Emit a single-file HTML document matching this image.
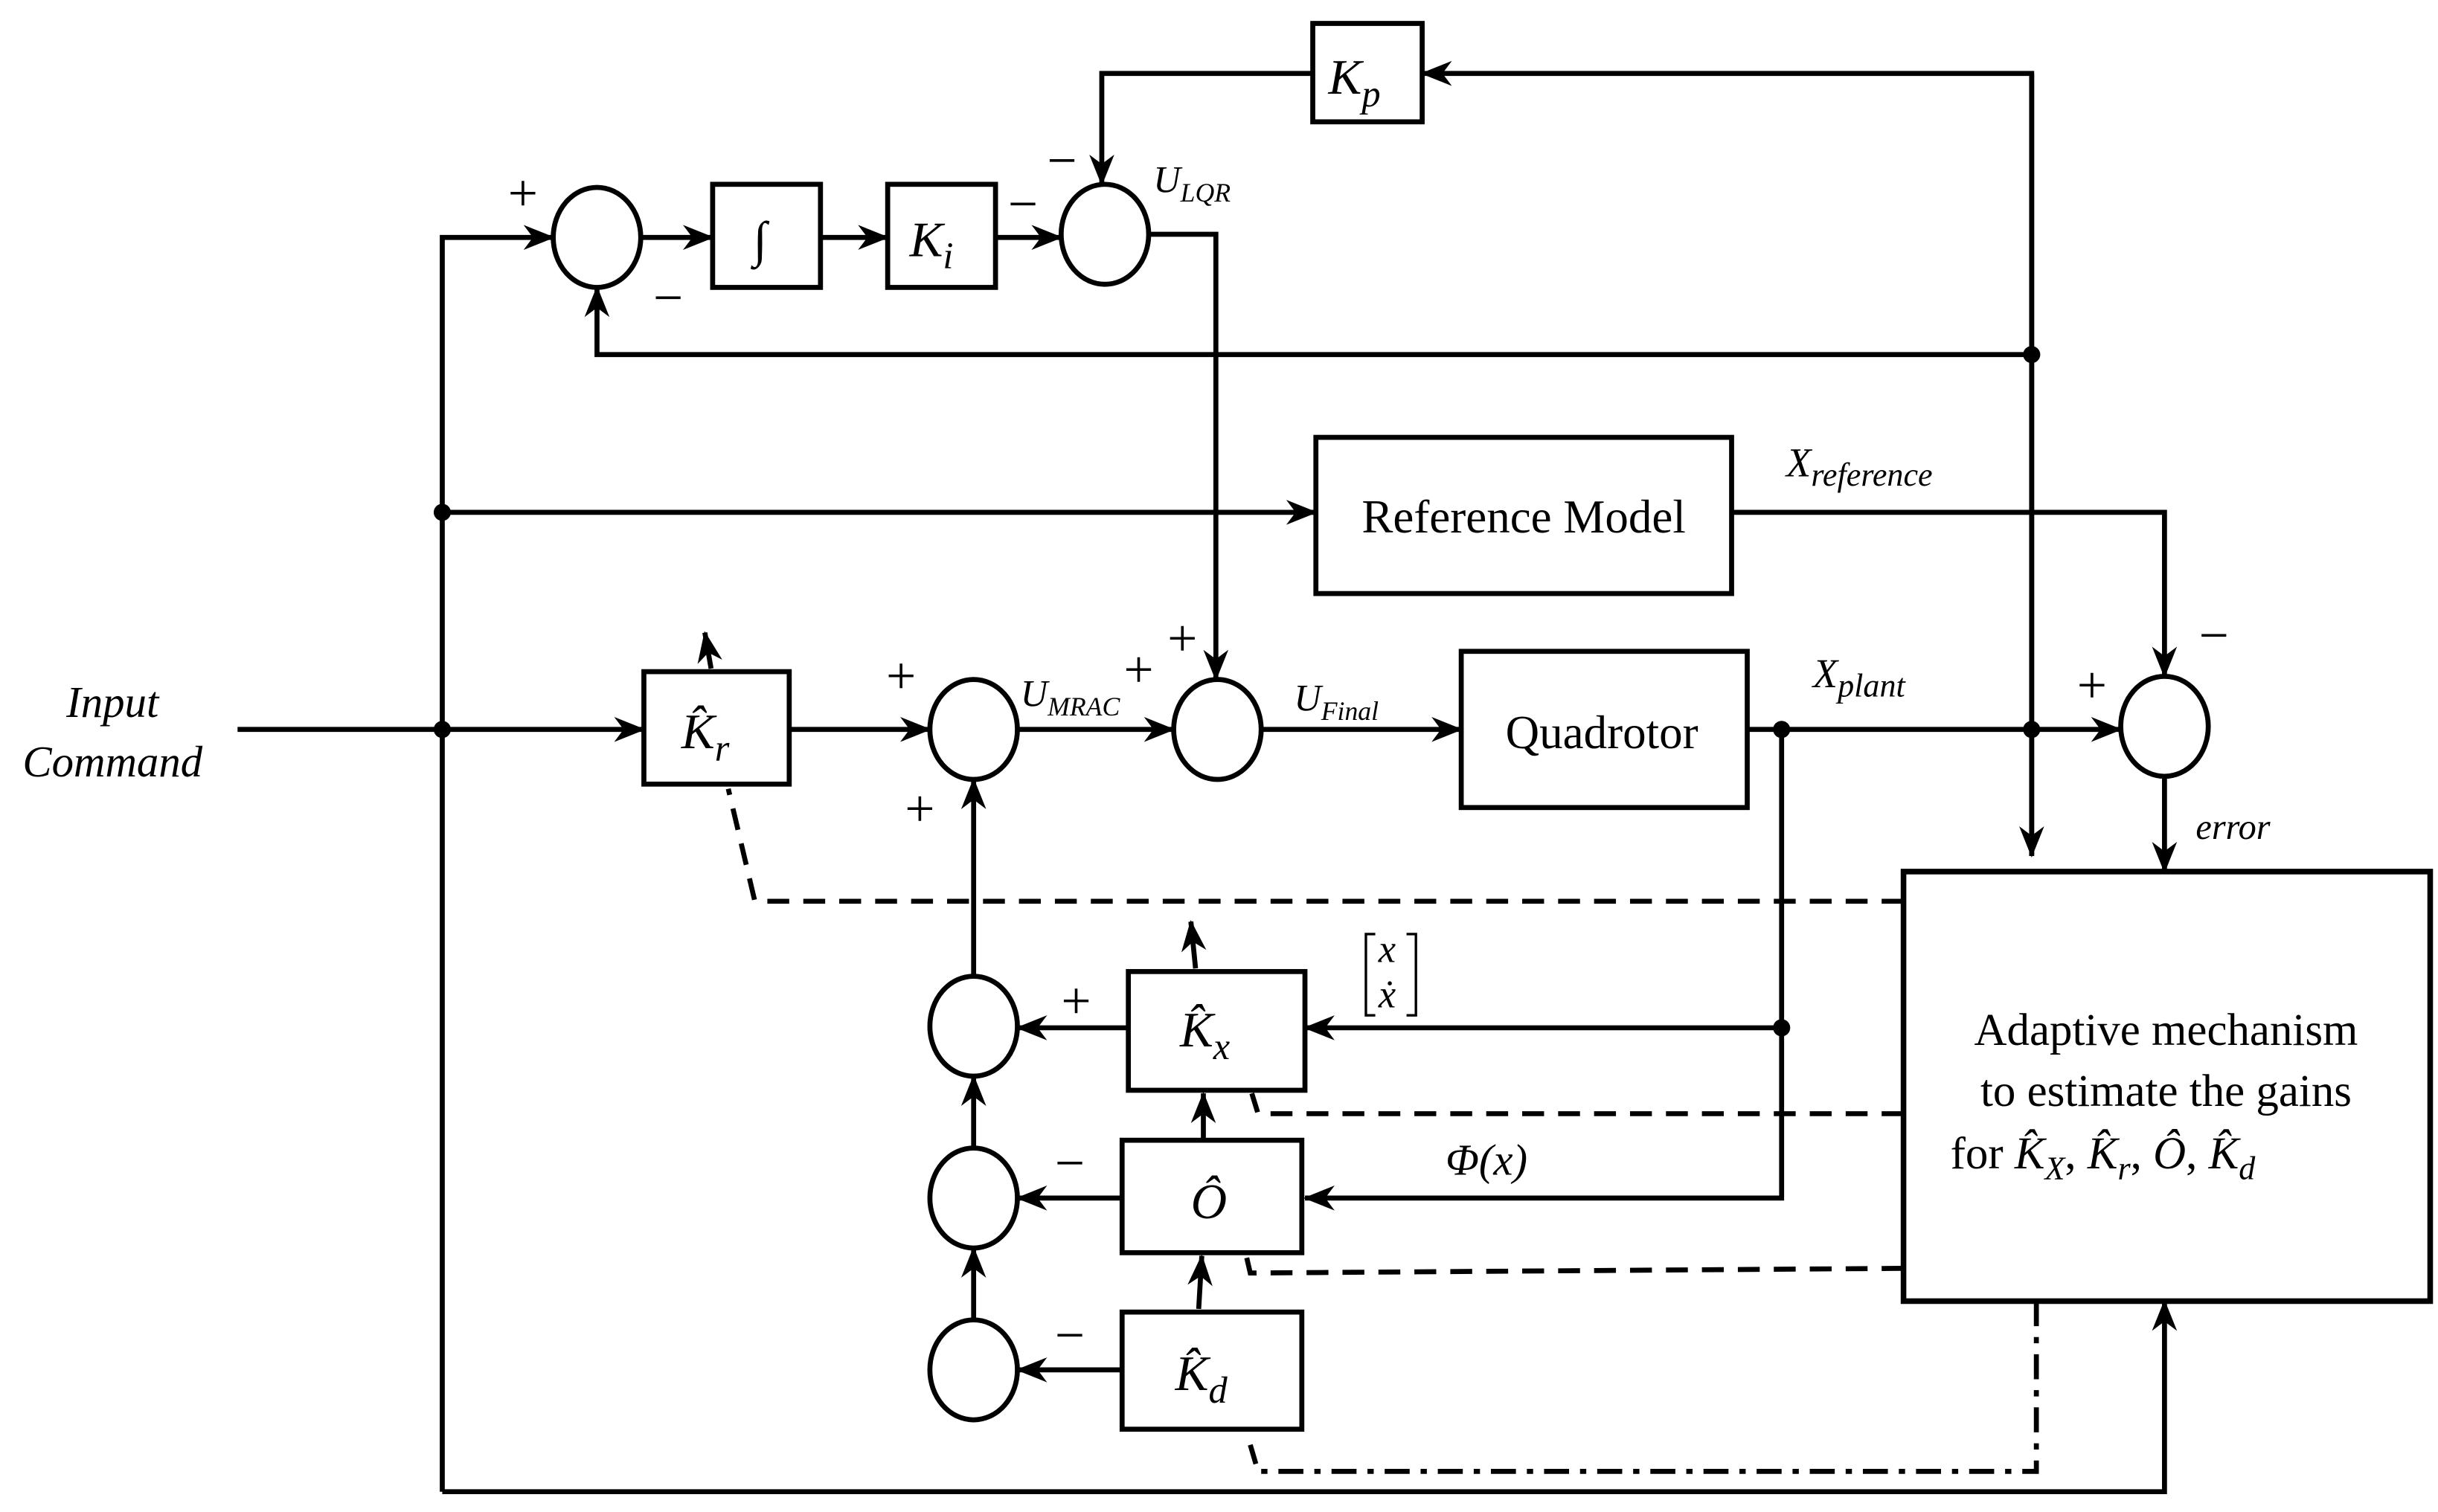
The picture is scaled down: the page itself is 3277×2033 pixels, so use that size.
<!DOCTYPE html>
<html><head><meta charset="utf-8"><style>
html,body{margin:0;padding:0;background:#fff;}
svg{display:block;}
text{font-family:"Liberation Serif","DejaVu Serif",serif;fill:#000;}
.m{font-style:italic;}
</style></head><body>
<svg width="3277" height="2033" viewBox="0 0 1560 968" preserveAspectRatio="none" xmlns="http://www.w3.org/2000/svg">
<defs>
<marker id="a" viewBox="0 0 20 16" refX="19" refY="8" markerWidth="20" markerHeight="16" markerUnits="userSpaceOnUse" orient="auto">
<path d="M0,0 L20,8 L0,16 L6,8 Z" fill="#000"/>
</marker>
</defs>
<g fill="none" stroke="#000" stroke-width="3.2">
<rect x="840" y="15" width="70" height="63"/>
<rect x="456" y="118" width="69" height="66"/>
<rect x="568" y="118" width="69" height="66"/>
<rect x="842" y="280" width="266" height="100"/>
<rect x="412" y="430" width="93" height="72"/>
<rect x="935" y="417" width="183" height="100"/>
<rect x="722" y="622" width="113" height="76"/>
<rect x="718" y="730" width="115" height="72"/>
<rect x="718" y="840" width="115" height="75"/>
<rect x="1218" y="558" width="337" height="275" stroke-width="3.6"/>
<ellipse cx="382" cy="152" rx="28" ry="32"/>
<ellipse cx="707" cy="150" rx="28" ry="32"/>
<ellipse cx="623" cy="467" rx="28" ry="32"/>
<ellipse cx="779" cy="467" rx="28" ry="32"/>
<ellipse cx="1385" cy="465" rx="28" ry="32"/>
<ellipse cx="623" cy="657" rx="28" ry="32"/>
<ellipse cx="623" cy="767" rx="28" ry="32"/>
<ellipse cx="623" cy="877" rx="28" ry="32"/>
<path d="M840,47 H705 V118" marker-end="url(#a)"/>
<path d="M1300,548 V47 H910" marker-end="url(#a)"/>
<path d="M1300,47 V548" marker-end="url(#a)"/>
<path d="M283,955 V152 H354" marker-end="url(#a)"/>
<path d="M410,152 H456" marker-end="url(#a)"/>
<path d="M525,152 H568" marker-end="url(#a)"/>
<path d="M637,152 H679" marker-end="url(#a)"/>
<path d="M735,150 H778 V435" marker-end="url(#a)"/>
<path d="M1300,227 H382 V184" marker-end="url(#a)"/>
<path d="M283,955 H1385 V833" marker-end="url(#a)"/>
<path d="M283,328 H842" marker-end="url(#a)"/>
<path d="M1108,328 H1385 V433" marker-end="url(#a)"/>
<path d="M152,467 H412" marker-end="url(#a)"/>
<path d="M505,467 H595" marker-end="url(#a)"/>
<path d="M651,467 H751" marker-end="url(#a)"/>
<path d="M807,467 H935" marker-end="url(#a)"/>
<path d="M1118,467 H1357" marker-end="url(#a)"/>
<path d="M1140,467 V767 H835" marker-end="url(#a)"/>
<path d="M1140,658 H835" marker-end="url(#a)"/>
<path d="M1385,497 V558" marker-end="url(#a)"/>
<path d="M722,658 H651" marker-end="url(#a)"/>
<path d="M718,767 H651" marker-end="url(#a)"/>
<path d="M718,877 H651" marker-end="url(#a)"/>
<path d="M623,845 V799" marker-end="url(#a)"/>
<path d="M623,735 V689" marker-end="url(#a)"/>
<path d="M623,625 V499" marker-end="url(#a)"/>
<path d="M770,730 V700" marker-end="url(#a)"/>
<path d="M767,838 L769,804" marker-end="url(#a)"/>
<g stroke-dasharray="14,9">
<path d="M1218,577 H483 L466,505"/>
<path d="M1218,713 H805 L801,700"/>
<path d="M1218,812 L800,815 L797,802"/>
</g>
<path d="M455,428 L451,405" marker-end="url(#a)"/>
<path d="M765,620 L762,590" marker-end="url(#a)"/>
<path d="M1303,833 V942 H805 L800,925" stroke-dasharray="16,7,4,7"/>
<path d="M880,598 H874 V650 H880 M900,598 H906 V650 H900" stroke-width="1.6"/>
</g>
<g fill="#000">
<circle cx="283" cy="328" r="5.5"/>
<circle cx="283" cy="467" r="5.5"/>
<circle cx="1300" cy="227" r="5.5"/>
<circle cx="1300" cy="467" r="5.5"/>
<circle cx="1140" cy="467" r="5.5"/>
<circle cx="1140" cy="658" r="5.5"/>
</g>
<g font-size="32">
<text class="m" x="850" y="60">K<tspan font-size="24" dy="8">p</tspan></text>
<text class="m" x="482" y="164">∫</text>
<text class="m" x="582" y="164">K<tspan font-size="24" dy="8">i</tspan></text>
<text x="975" y="341" font-size="30" text-anchor="middle">Reference Model</text>
<text x="1025" y="479" font-size="30" text-anchor="middle">Quadrotor</text>
<text class="m" x="436" y="479">K̂<tspan font-size="24" dy="8">r</tspan></text>
<text class="m" x="755" y="670">K̂<tspan font-size="24" dy="8">x</tspan></text>
<text class="m" x="762" y="780">Ô</text>
<text class="m" x="752" y="890">K̂<tspan font-size="24" dy="8">d</tspan></text>
<text x="1386" y="669" text-anchor="middle" font-size="29">Adaptive mechanism</text>
<text x="1386" y="708" text-anchor="middle" font-size="29">to estimate the gains</text>
<text x="1248" y="748" font-size="29">for <tspan class="m">K̂</tspan><tspan class="m" font-size="21" dy="7">X</tspan><tspan dy="-7">, </tspan><tspan class="m">K̂</tspan><tspan class="m" font-size="21" dy="7">r</tspan><tspan dy="-7">, </tspan><tspan class="m">Ô</tspan>, <tspan class="m">K̂</tspan><tspan class="m" font-size="21" dy="7">d</tspan></text>
</g>
<g font-size="28">
<text class="m" x="72" y="459" text-anchor="middle">Input</text>
<text class="m" x="72" y="497" text-anchor="middle">Command</text>
<text class="m" x="738" y="123" font-size="24">U<tspan font-size="17" dy="6">LQR</tspan></text>
<text class="m" x="653" y="452" font-size="24">U<tspan font-size="17" dy="6">MRAC</tspan></text>
<text class="m" x="828" y="455" font-size="24">U<tspan font-size="17" dy="6">Final</tspan></text>
<text class="m" x="1143" y="305" font-size="26">X<tspan font-size="21" dy="6">reference</tspan></text>
<text class="m" x="1160" y="440" font-size="26">X<tspan font-size="21" dy="6">plant</tspan></text>
<text class="m" x="1405" y="537" font-size="23">error</text>
<text class="m" x="925" y="752" font-size="28">Φ(x)</text>
<text class="m" x="882" y="616" font-size="25">x</text>
<text class="m" x="882" y="645" font-size="25">ẋ</text>
</g>
<g font-size="34">
<text x="325" y="135">+</text>
<text x="418" y="202">−</text>
<text x="645" y="142">−</text>
<text x="670" y="114">−</text>
<text x="747" y="420">+</text>
<text x="567" y="444">+</text>
<text x="719" y="440">+</text>
<text x="579" y="529">+</text>
<text x="1329" y="450">+</text>
<text x="1407" y="418">−</text>
<text x="679" y="652">+</text>
<text x="675" y="756">−</text>
<text x="675" y="866">−</text>
</g>
</svg>
</body></html>
